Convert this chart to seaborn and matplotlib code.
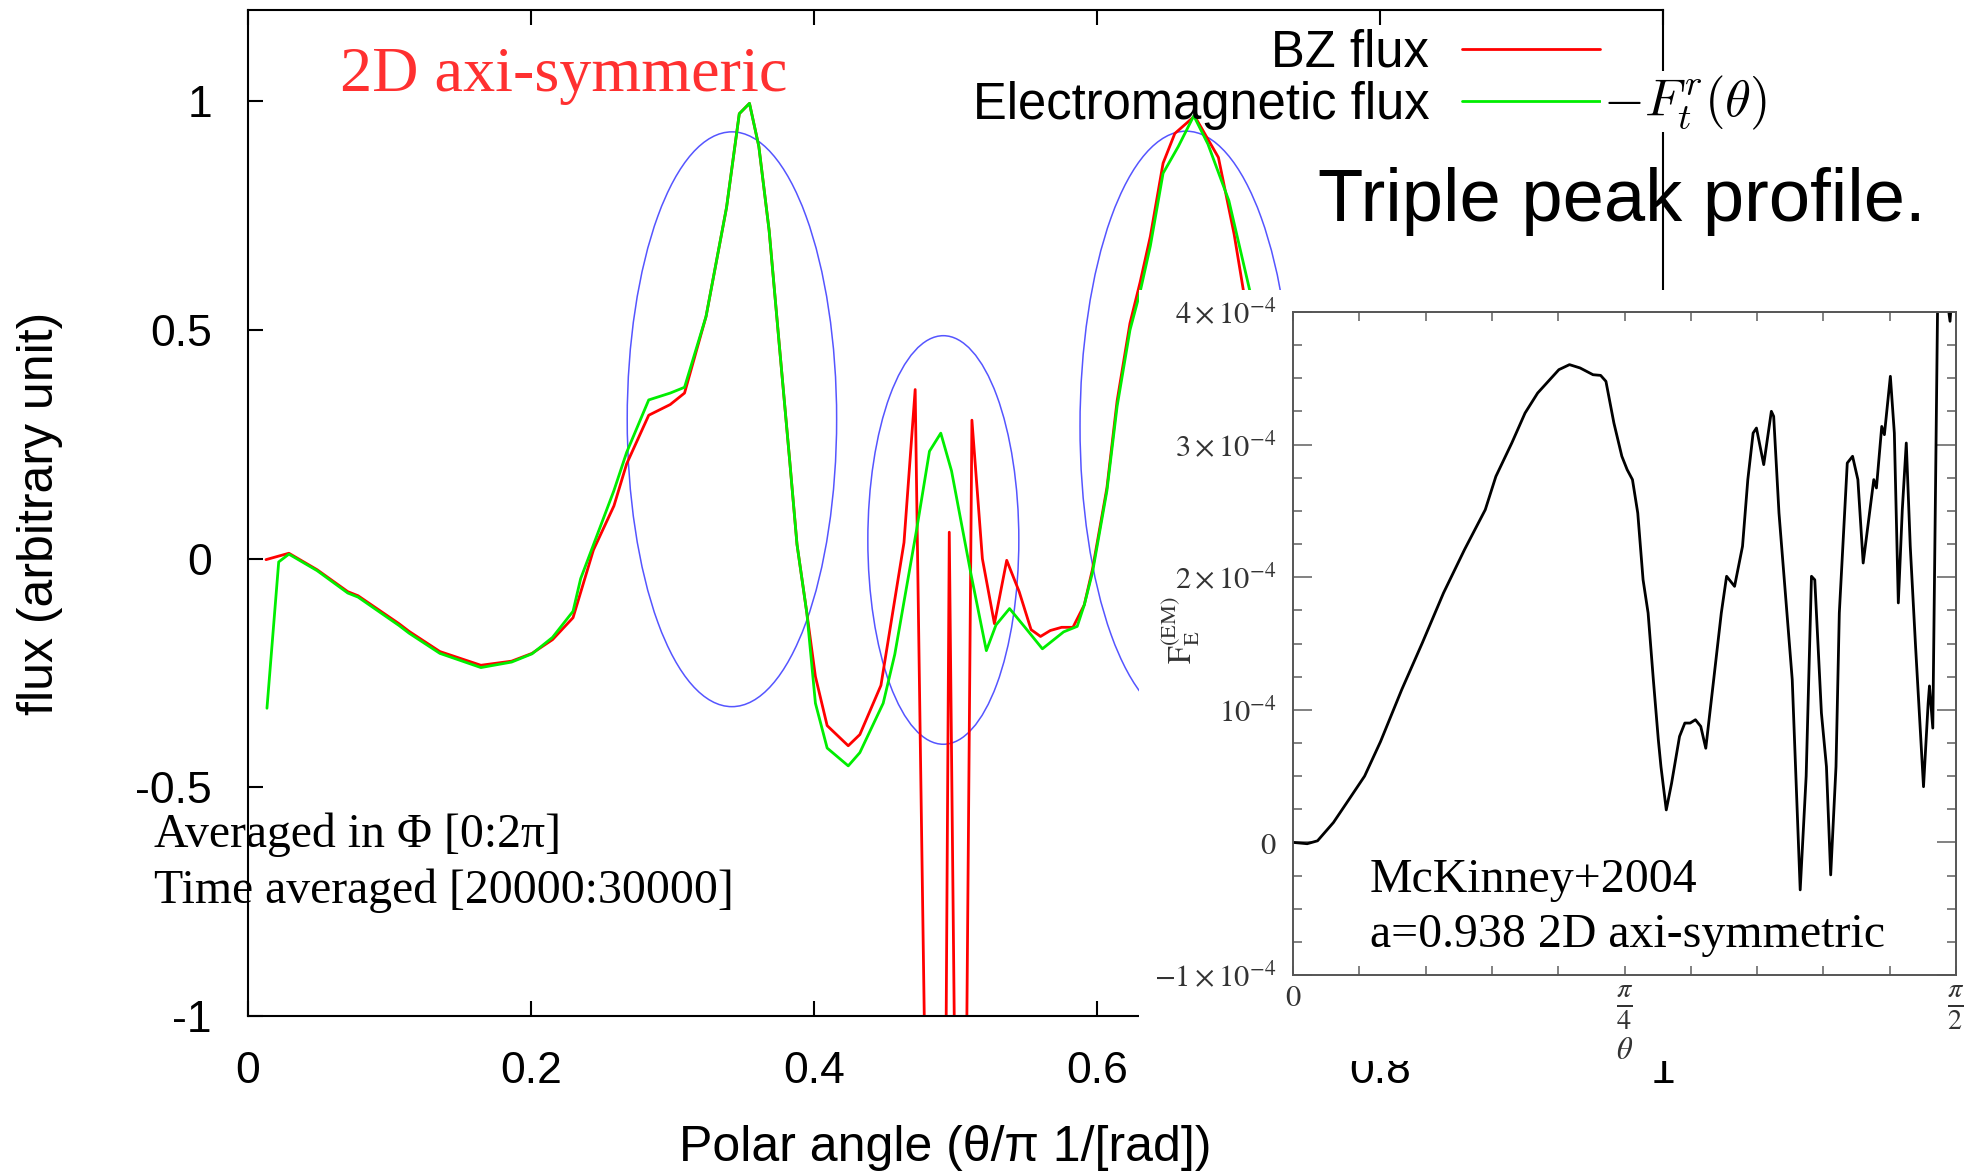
import numpy as np
import pandas as pd
import matplotlib
matplotlib.use("Agg")
import matplotlib.pyplot as plt
import seaborn as sns
from matplotlib.patches import Ellipse
from matplotlib.ticker import MultipleLocator

# ---------------- data ----------------
bz_x = [0.0127, 0.0289, 0.0488, 0.0705, 0.0778, 0.1067, 0.1139, 0.1356, 0.1646, 0.1863,
        0.2007, 0.2152, 0.2297, 0.2441, 0.2586, 0.2676, 0.2832, 0.2984, 0.3085, 0.3237,
        0.3382, 0.3472, 0.3544, 0.361, 0.3683, 0.3755, 0.3828, 0.388, 0.395, 0.401,
        0.4093, 0.4242, 0.4324, 0.4473, 0.4636, 0.4715, 0.4887, 0.4956, 0.504, 0.5116,
        0.519, 0.5275, 0.5362, 0.545, 0.5534, 0.5601, 0.567, 0.575, 0.583, 0.591,
        0.5968, 0.607, 0.6142, 0.6233, 0.6305, 0.6377, 0.6467, 0.655, 0.669, 0.6858,
        0.6969, 0.7035, 0.712, 0.722]
bz_y = [-0.002, 0.012, -0.024, -0.072, -0.081, -0.142, -0.159, -0.203, -0.233, -0.224,
        -0.207, -0.177, -0.129, 0.019, 0.1155, 0.2075, 0.3138, 0.3372, 0.3623, 0.5297,
        0.7682, 0.9732, 0.9958, 0.902, 0.7176, 0.4666, 0.2154, 0.031, -0.12, -0.2576,
        -0.365, -0.409, -0.3845, -0.277, 0.0354, 0.37, -3.3, 0.058, -2.48, 0.303,
        0.0, -0.142, -0.0035, -0.072, -0.155, -0.17, -0.157, -0.15, -0.15, -0.101,
        -0.023, 0.155, 0.345, 0.515, 0.605, 0.705, 0.865, 0.93, 0.968, 0.8775,
        0.71, 0.586, 0.43, 0.27]

em_x = [0.0134, 0.0217, 0.0289, 0.0488, 0.0705, 0.0778, 0.1067, 0.1139, 0.1356, 0.1646,
        0.1863, 0.2007, 0.2152, 0.2297, 0.2351, 0.2586, 0.2676, 0.2832, 0.2984, 0.3085,
        0.3237, 0.3382, 0.3472, 0.3544, 0.361, 0.3683, 0.3755, 0.3828, 0.388, 0.395,
        0.401, 0.4093, 0.4242, 0.4324, 0.4489, 0.4571, 0.4726, 0.4816, 0.4896, 0.4972,
        0.5109, 0.5218, 0.5286, 0.5382, 0.5491, 0.5614, 0.5764, 0.586, 0.591, 0.5968,
        0.607, 0.6142, 0.6233, 0.6305, 0.6377, 0.6467, 0.6575, 0.6684, 0.6784, 0.6932,
        0.708, 0.716, 0.725]
em_y = [-0.327, -0.007, 0.010, -0.026, -0.075, -0.084, -0.146, -0.163, -0.207, -0.238,
        -0.226, -0.208, -0.172, -0.115, -0.0435, 0.149, 0.2326, 0.3473, 0.3623, 0.3749,
        0.5297, 0.7682, 0.9732, 0.9958, 0.902, 0.7176, 0.4666, 0.2154, 0.031, -0.12,
        -0.316, -0.414, -0.453, -0.424, -0.316, -0.209, 0.065, 0.235, 0.2746, 0.192,
        -0.033, -0.201, -0.145, -0.109, -0.15, -0.197, -0.16, -0.148, -0.101, -0.03,
        0.1485, 0.333, 0.5, 0.584, 0.684, 0.843, 0.9017, 0.9687, 0.9067, 0.783,
        0.586, 0.45, 0.3]

series_names = ["BZ flux", "Electromagnetic flux"]

main_xticks = [0, 0.2, 0.4, 0.6, 0.8, 1.0]
main_xticklabels = ["0", "0.2", "0.4", "0.6", "0.8", "1"]
main_yticks = [-1, -0.5, 0, 0.5, 1]
main_yticklabels = ["-1", "-0.5", "0", "0.5", "1"]

# highlighted regions (ellipses) in data coordinates
ell_cx = [0.342, 0.4914, 0.663]
ell_cy = [0.305, 0.041, 0.29]
ell_w = [0.148, 0.1067, 0.15]
ell_h = [1.257, 0.8935, 1.29]

# inset (McKinney+2004): theta as fraction of pi/2, flux in units of 1e-4
mck_theta_frac = [0.0, 0.0214, 0.037, 0.061, 0.0847, 0.108, 0.132, 0.164, 0.195, 0.227,
                  0.2587, 0.29, 0.306, 0.33, 0.35, 0.369, 0.401, 0.417, 0.433, 0.4525,
                  0.464, 0.472, 0.484, 0.496, 0.504, 0.512, 0.52, 0.528, 0.5356, 0.5435,
                  0.551, 0.555, 0.563, 0.571, 0.583, 0.591, 0.599, 0.607, 0.615, 0.6226,
                  0.6345, 0.646, 0.654, 0.666, 0.678, 0.686, 0.694, 0.699, 0.71, 0.7215,
                  0.725, 0.733, 0.745, 0.753, 0.765, 0.774, 0.782, 0.787, 0.797, 0.8046,
                  0.811, 0.819, 0.824, 0.836, 0.844, 0.852, 0.86, 0.876, 0.88, 0.888,
                  0.892, 0.901, 0.907, 0.913, 0.919, 0.925, 0.931, 0.939, 0.951, 0.958,
                  0.96, 0.965, 0.9735, 0.991, 1.0]
mck_flux_e4 = [0.0, -0.01, 0.012, 0.15, 0.326, 0.5, 0.76, 1.152, 1.504, 1.881,
               2.208, 2.509, 2.76, 3.012, 3.238, 3.389, 3.565, 3.603, 3.578, 3.527,
               3.522, 3.477, 3.163, 2.912, 2.811, 2.736, 2.484, 1.981, 1.73, 1.227,
               0.775, 0.571, 0.245, 0.446, 0.799, 0.9, 0.9, 0.925, 0.875, 0.71,
               1.227, 1.73, 2.007, 1.931, 2.233, 2.736, 3.087, 3.125, 2.849, 3.251,
               3.213, 2.484, 1.73, 1.227, -0.358, 0.5, 2.007, 1.98, 0.976, 0.571,
               -0.245, 0.571, 1.73, 2.861, 2.912, 2.736, 2.107, 2.736, 2.673, 3.137,
               3.075, 3.515, 3.087, 1.806, 2.509, 3.012, 2.233, 1.479, 0.42, 1.05,
               1.18, 0.862, 4.6, 3.93, 4.6]

inset_yticks = [-1, 0, 1, 2, 3, 4]
inset_yticklabels = [r"$-1\times10^{-4}$", r"$0$", r"$10^{-4}$", r"$2\times10^{-4}$",
                     r"$3\times10^{-4}$", r"$4\times10^{-4}$"]
inset_xtick_frac = [0.0, 0.5, 1.0]
inset_xticklabels = [r"$0$", r"$\frac{\pi}{4}$", r"$\frac{\pi}{2}$"]

# ---------------- style ----------------
sns.set_style("ticks")
plt.rcParams["font.family"] = ["Liberation Sans", "DejaVu Sans"]
plt.rcParams["axes.unicode_minus"] = False
for key in ["text.color", "axes.labelcolor", "xtick.color", "ytick.color", "axes.edgecolor"]:
    plt.rcParams[key] = "black"

W, H = 1972, 1173
fig = plt.figure(figsize=(W / 100, H / 100), dpi=100)


def fx(px):
    return px / W


def fy(py):
    return 1 - py / H


# ---------------- main axes ----------------
ax = fig.add_axes([fx(248), fy(1016), 1415 / W, 1006 / H])
df_main = pd.DataFrame({
    "x": bz_x + em_x,
    "y": bz_y + em_y,
    "series": [series_names[0]] * len(bz_x) + [series_names[1]] * len(em_x),
})
sns.lineplot(data=df_main, x="x", y="y", hue="series", hue_order=series_names,
             palette={series_names[0]: "#ff0000", series_names[1]: "#00ee00"},
             sort=False, estimator=None, linewidth=2.0, ax=ax)

for cx, cy, w, h in zip(ell_cx, ell_cy, ell_w, ell_h):
    ax.add_patch(Ellipse((cx, cy), w, h, fill=False, edgecolor="#5555ff", linewidth=1.1))

ax.set_xlim(0, 1)
ax.set_ylim(-1, 1.2)
ax.set_xticks(main_xticks)
ax.set_xticklabels(main_xticklabels)
ax.set_yticks(main_yticks)
ax.set_yticklabels(main_yticklabels)
ax.tick_params(axis="both", direction="in", length=10.8, width=1.5, top=True, right=True,
               labelsize=32, colors="black")
ax.tick_params(axis="x", pad=25)
ax.tick_params(axis="y", pad=26)
for s in ax.spines.values():
    s.set_linewidth(1.5)
    s.set_color("black")
    s.set_visible(True)

ax.set_xlabel("Polar angle (θ/π 1/[rad])", fontsize=36)
ax.xaxis.set_label_coords(0.493, -0.108)
ax.set_ylabel("flux (arbitrary unit)", fontsize=36)
ax.yaxis.set_label_coords(-0.131, 0.5)

handles, labels = ax.get_legend_handles_labels()
leg = ax.legend(handles, labels, loc="upper right", bbox_to_anchor=(0.9555, 0.9815),
                frameon=False, markerfirst=False, fontsize=36.5, handlelength=2.72,
                handletextpad=0.65, labelspacing=0.06, borderpad=0, borderaxespad=0)
for line in leg.get_lines():
    line.set_linewidth(2.0)

# ---------------- white background for inset ----------------
bg = fig.add_axes([fx(1139), fy(1061), (W - 1139) / W, (1061 - 290) / H])
bg.set_facecolor("white")
bg.set_xticks([])
bg.set_yticks([])
for s in bg.spines.values():
    s.set_visible(False)

# ---------------- inset axes ----------------
ins = fig.add_axes([fx(1293), fy(975), 663 / W, 663 / H])
theta = np.array(mck_theta_frac) * np.pi / 2
sns.lineplot(x=theta, y=mck_flux_e4, color="black", linewidth=2.0, sort=False,
             estimator=None, ax=ins)
ins.set_xlim(0, np.pi / 2)
ins.set_ylim(-1, 4)
ins.set_xticks(np.array(inset_xtick_frac) * np.pi / 2)
ins.set_xticklabels(inset_xticklabels, math_fontfamily="stix", fontsize=22, color="#333333")
for lbl, size in zip(ins.get_xticklabels(), [22, 29, 29]):
    lbl.set_fontsize(size)
ins.xaxis.set_minor_locator(MultipleLocator(np.pi / 20))
ins.set_yticks(inset_yticks)
ins.set_yticklabels(inset_yticklabels, math_fontfamily="stix", fontsize=22, color="#333333")
ins.yaxis.set_minor_locator(MultipleLocator(0.25))
ins.tick_params(axis="both", which="both", direction="in", top=True, right=True,
                color="#777777", width=1.3)
ins.tick_params(axis="y", which="major", length=13.5, pad=12)
ins.tick_params(axis="y", which="minor", length=6.5)
ins.tick_params(axis="x", which="both", length=6.5, pad=6)
for s in ins.spines.values():
    s.set_linewidth(1.4)
    s.set_color("#555555")
ins.set_xlabel(r"$\theta$", math_fontfamily="stix", fontsize=22, color="#333333")
ins.xaxis.set_label_coords(0.5, -0.092)
ins.set_ylabel(r"$\mathrm{F}^{(\mathrm{EM})}_{\mathrm{E}}$", math_fontfamily="stix",
               fontsize=23, color="#333333")
ins.yaxis.set_label_coords(-0.137, 0.52)

# ---------------- annotations ----------------
serif = ["Liberation Serif", "DejaVu Serif"]
fig.text(fx(340), fy(90.8), "2D axi-symmeric", family=serif, fontsize=46.2,
         color="#ff3030", va="baseline", ha="left")
fig.text(fx(153.5), fy(846.8), "Averaged in Φ [0:2π]", family=serif, fontsize=34.4,
         color="black", va="baseline", ha="left")
fig.text(fx(153.5), fy(902.6), "Time averaged [20000:30000]", family=serif, fontsize=34.4,
         color="black", va="baseline", ha="left")
fig.text(fx(1318), fy(221), "Triple peak profile.", fontsize=53.5, color="black",
         va="baseline", ha="left")
fig.text(fx(1603), fy(115), r"$-F^r_t(\theta)$", math_fontfamily="cm", fontsize=38,
         color="black", va="baseline", ha="left",
         bbox=dict(facecolor="white", edgecolor="none", pad=1))
fig.text(fx(1370), fy(891.7), "McKinney+2004", family=serif, fontsize=34.5,
         color="black", va="baseline", ha="left")
fig.text(fx(1370), fy(946.7), "a=0.938 2D axi-symmetric", family=serif, fontsize=34.5,
         color="black", va="baseline", ha="left")

fig.savefig("out.png", dpi=100)
